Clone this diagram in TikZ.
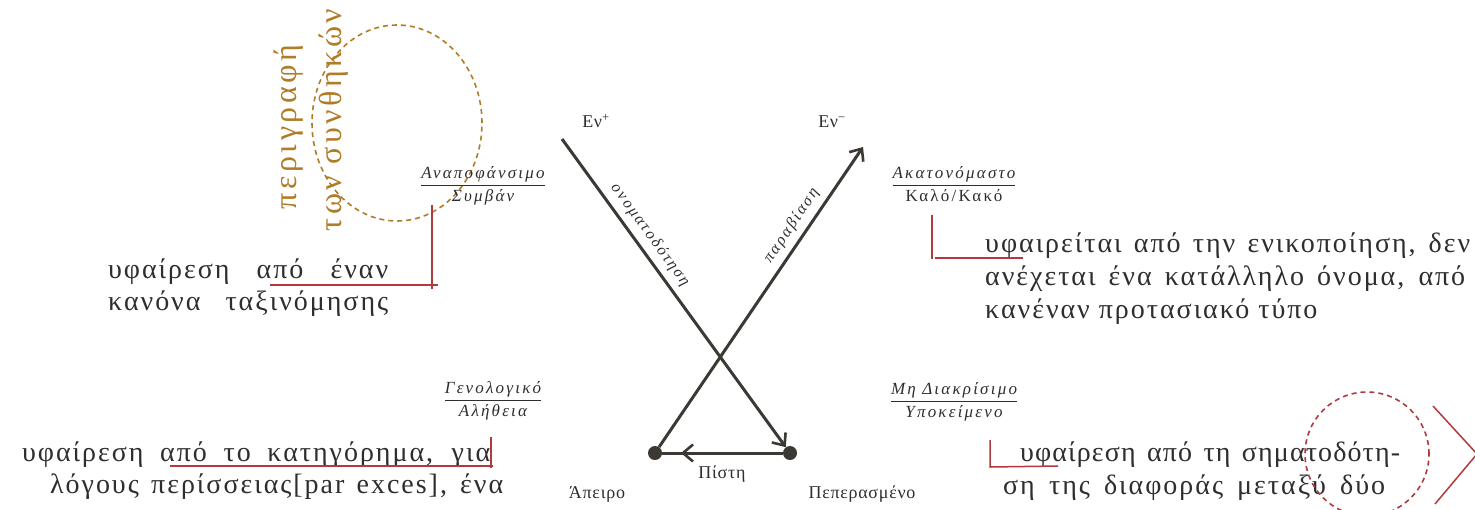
\documentclass[tikz,border=0pt]{standalone}
\usepackage{fontspec}
\setmainfont{Liberation Serif}
\newfontfamily\bodyf[LetterSpace=7]{Liberation Serif}
\newfontfamily\fracf[LetterSpace=13]{Liberation Serif}
\newfontfamily\brownf[LetterSpace=11]{Liberation Serif}
\newfontfamily\labf[LetterSpace=4]{Liberation Serif}
\usetikzlibrary{arrows.meta}
\definecolor{ink}{HTML}{3C3935}
\definecolor{txt}{HTML}{2E2E2E}
\definecolor{redline}{HTML}{B03A3C}
\definecolor{brownc}{HTML}{B07C28}
\setlength{\arrayrulewidth}{1.5pt}
\newcommand{\frc}[2]{\begin{tabular}{@{}c@{}}#1\\[1pt]\hline\rule{0pt}{15pt}#2\end{tabular}}
\begin{document}
\begin{tikzpicture}[x=1pt,y=-1pt,
  body/.style={font=\bodyf\fontsize{28}{32}\selectfont, anchor=base west, inner sep=0pt, text=txt},
  fracnode/.style={font=\fracf\itshape\fontsize{17}{19}\selectfont, inner sep=0pt, text=txt},
  brownt/.style={font=\brownf\fontsize{32}{36}\selectfont, text=brownc, inner sep=0pt, rotate=90},
  lab/.style={font=\labf\fontsize{18}{20}\selectfont, text=txt, inner sep=0pt},
  slab/.style={font=\fracf\itshape\fontsize{16}{18}\selectfont, text=txt, inner sep=6pt},
  arr/.style={draw=ink, line width=3pt},
  tip/.style={-{Straight Barb[length=10pt,width=17pt,line width=2.6pt]}},
  dot/.style={circle, fill=ink, draw=none, minimum size=14pt, inner sep=0pt},
  callout/.style={draw=redline, line width=1.5pt},
  bcirc/.style={draw=brownc, line width=1.6pt, dash pattern=on 5pt off 4pt},
  rcirc/.style={draw=redline, line width=1.6pt, dash pattern=on 5pt off 4pt}
]
\useasboundingbox (0,0) rectangle (1475,509);

% brown annotation
\draw[bcirc] (397,123) ellipse [x radius=85pt, y radius=98pt];
\node[brownt] (b1) at (289,127) {περιγραφή};
\node[brownt] (b2) at (334,120) {των συνθηκών};

% fractions
\node[fracnode] (f1) at (483,186) {\frc{Αναποφάνσιμο}{Συμβάν}};
\node[fracnode] (f2) at (954,186) {\frc{Ακατονόμαστο}{\upshape Καλό/Κακό}};
\node[fracnode] (f3) at (493,401) {\frc{Γενολογικό}{Αλήθεια}};
\node[fracnode] (f4) at (954,402) {\frc{Μη Διακρίσιμο}{Υποκείμενο}};

% central diagram
\coordinate (Ep) at (562,139);
\coordinate (Em) at (863,147);
\node[dot] (L) at (655,453) {};
\node[dot] (R) at (790,453) {};
\coordinate (mid) at (681,453);
\node[lab] (eplus) at (596,121) {Εν\textsuperscript{+}};
\node[lab] (eminus) at (832,122) {Εν\textsuperscript{−}};
\draw[arr, tip] (Ep) -- (R) node[pos=0.34, sloped, above, slab] {ονοματοδότηση};
\draw[arr, tip] (L) -- (Em) node[pos=0.71, sloped, above, slab] {παραβίαση};
\draw[arr] (R) -- (L);
\draw[arr, tip] (R) -- (mid);
\node[lab] (pistis) at (722,474) {Πίστη};
\node[lab] (apeiro) at (597,494) {Άπειρο};
\node[lab] (peper) at (862,494) {Πεπερασμένο};

% texts
\node[body] (t1a) at (108,278) {\makebox[280pt][s]{υφαίρεση από έναν}};
\node[body] (t1b) at (108,310) {\makebox[280pt][s]{κανόνα ταξινόμησης}};

\node[body] (t2a) at (985,252) {\makebox[485pt][s]{υφαιρείται από την ενικοποίηση, δεν}};
\node[body] (t2b) at (985,285) {\makebox[480pt][s]{ανέχεται ένα κατάλληλο όνομα, από}};
\node[body] (t2c) at (985,318) {κανέναν προτασιακό τύπο};

\node[body] (t3a) at (22,461) {\makebox[468pt][s]{υφαίρεση από το κατηγόρημα, για}};
\node[body] (t3b) at (50,493) {\makebox[453pt][s]{λόγους περίσσειας[par exces], ένα}};

\node[body] (t4a) at (1020,461) {\addfontfeature{LetterSpace=4}\makebox[380pt][s]{υφαίρεση από τη σηματοδότη-}};
\node[body] (t4b) at (1003,494) {\makebox[382pt][s]{ση της διαφοράς μεταξύ δύο}};

% red callouts
\coordinate (c1t) at (432,205); \coordinate (c1b) at (432,289);
\coordinate (c1l) at (270,285); \coordinate (c1r) at (438,285);
\draw[callout] (c1t) -- (c1b);
\draw[callout] (c1l) -- (c1r);

\coordinate (c2t) at (932,215); \coordinate (c2b) at (932,259);
\coordinate (c2l) at (935,258); \coordinate (c2r) at (1023,258);
\draw[callout] (c2t) -- (c2b);
\draw[callout] (c2l) -- (c2r);

\coordinate (c3t) at (491,437); \coordinate (c3b) at (491,468);
\coordinate (c3l) at (170,466); \coordinate (c3r) at (493,466);
\draw[callout] (c3t) -- (c3b);
\draw[callout] (c3l) -- (c3r);

\coordinate (c4t) at (990,440); \coordinate (c4b) at (990,467);
\coordinate (c4r) at (1058,466);
\draw[callout] (c4t) -- (c4b) -- (c4r);

% red dashed circle and chevron
\draw[rcirc] (1367,454) circle [radius=62pt];
\coordinate (v1) at (1433,406); \coordinate (v2) at (1477,454); \coordinate (v3) at (1435,504);
\draw[callout] (v1) -- (v2) -- (v3);
\end{tikzpicture}
\end{document}
